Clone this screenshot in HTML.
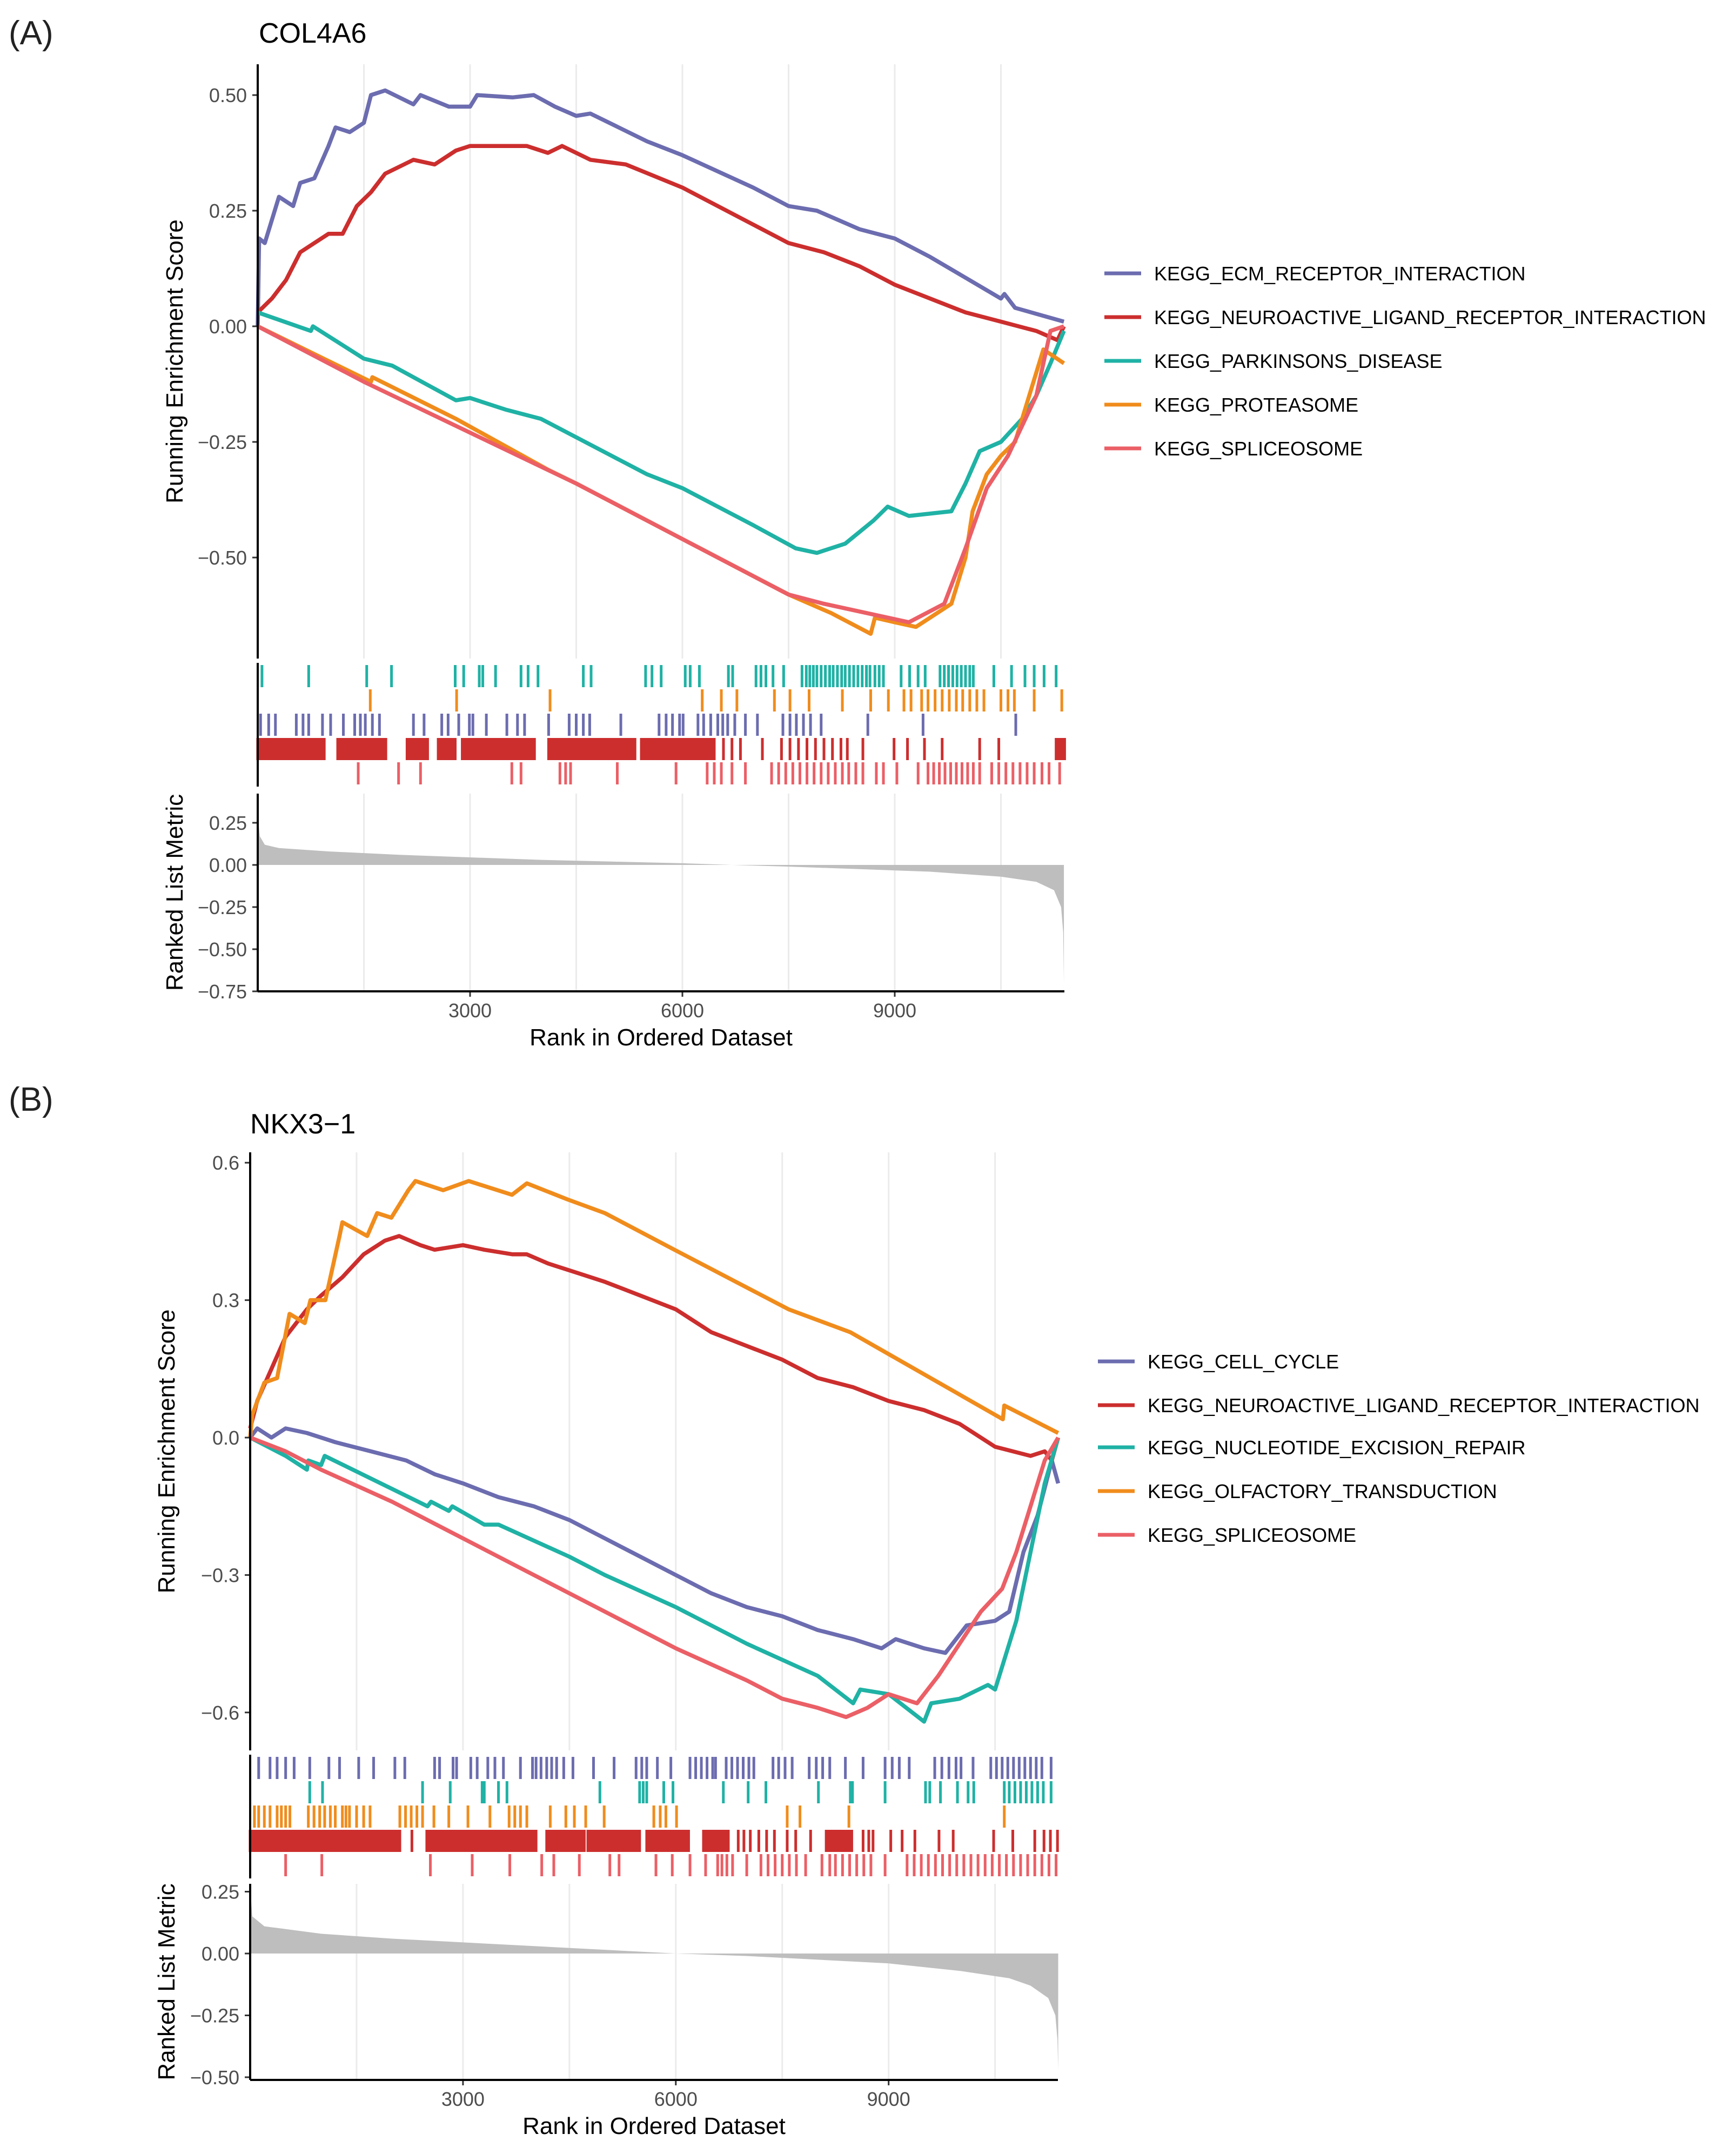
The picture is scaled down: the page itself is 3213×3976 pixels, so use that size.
<!DOCTYPE html>
<html><head><meta charset="utf-8">
<style>
html,body{margin:0;padding:0;background:#fff;}
svg{display:block;font-family:"Liberation Sans",Arial,sans-serif;}
</style></head>
<body>
<svg id="fig" width="3213" height="3976" viewBox="0 0 3213 3976" xmlns="http://www.w3.org/2000/svg">
<rect width="3213" height="3976" fill="#fff"/>
<text x="16" y="82" font-size="62" fill="#222">(A)</text>
<text x="479" y="79" font-size="52" fill="#000">COL4A6</text>
<text x="16" y="2056" font-size="62" fill="#222">(B)</text>
<text x="463" y="2098" font-size="52" fill="#000">NKX3−1</text>
</svg>
<script>
// ---------- Panel A data ----------
const namesA = ["KEGG_ECM_RECEPTOR_INTERACTION","KEGG_NEUROACTIVE_LIGAND_RECEPTOR_INTERACTION","KEGG_PARKINSONS_DISEASE","KEGG_PROTEASOME","KEGG_SPLICEOSOME"];
const esRankA_ecm = [0,20,100,200,300,500,600,800,1000,1100,1300,1500,1600,1800,2200,2300,2700,3000,3100,3600,3900,4200,4500,4700,5500,6000,7000,7500,7900,8500,9000,9500,10500,10550,10700,11390];
const esValA_ecm  = [0,0.19,0.18,0.23,0.28,0.26,0.31,0.32,0.39,0.43,0.42,0.44,0.50,0.51,0.48,0.50,0.475,0.475,0.50,0.495,0.50,0.475,0.455,0.46,0.40,0.37,0.30,0.26,0.25,0.21,0.19,0.15,0.06,0.07,0.04,0.01];
const esRankA_neuro = [0,200,400,600,800,1000,1200,1400,1600,1800,2200,2500,2800,3000,3800,4100,4300,4700,5200,6000,7000,7500,8000,8500,9000,9500,10000,10500,11000,11300,11390];
const esValA_neuro  = [0.03,0.06,0.10,0.16,0.18,0.20,0.20,0.26,0.29,0.33,0.36,0.35,0.38,0.39,0.39,0.375,0.39,0.36,0.35,0.30,0.22,0.18,0.16,0.13,0.09,0.06,0.03,0.01,-0.01,-0.03,0.0];
const esRankA_park = [0,750,780,1500,1900,2800,3000,3500,4000,4500,5000,5500,6000,7000,7600,7900,8300,8700,8900,9200,9800,10000,10200,10500,10800,11000,11200,11390];
const esValA_park  = [0.03,-0.01,0.0,-0.07,-0.085,-0.16,-0.155,-0.18,-0.20,-0.24,-0.28,-0.32,-0.35,-0.43,-0.48,-0.49,-0.47,-0.42,-0.39,-0.41,-0.40,-0.34,-0.27,-0.25,-0.20,-0.15,-0.08,-0.01];
const esRankA_prot = [0,1600,1620,2800,4100,4500,6000,7500,8100,8660,8720,9000,9300,9600,9800,10000,10100,10300,10500,10700,10900,11100,11390];
const esValA_prot  = [0,-0.12,-0.11,-0.20,-0.31,-0.34,-0.46,-0.58,-0.62,-0.665,-0.63,-0.64,-0.65,-0.62,-0.60,-0.50,-0.40,-0.32,-0.28,-0.25,-0.15,-0.05,-0.08];
const esRankA_spl = [0,1500,3000,4500,6000,7500,8000,8600,9200,9700,10000,10300,10600,11000,11200,11390];
const esValA_spl  = [0,-0.12,-0.23,-0.34,-0.46,-0.58,-0.60,-0.62,-0.64,-0.60,-0.48,-0.35,-0.28,-0.15,-0.01,0.0];
const hitsA_park = [60,720,1540,1890,2790,2910,3130,3180,3360,3720,3820,3960,4600,4710,5480,5570,5700,6040,6110,6240,6650,6710,7040,7110,7180,7280,7430,7690,7750,7800,7850,7900,7960,8020,8080,8130,8190,8250,8300,8360,8420,8480,8540,8600,8650,8720,8780,8840,9090,9210,9330,9430,9640,9700,9760,9820,9880,9940,10000,10060,10110,10400,10650,10840,10970,11110,11280];
const hitsA_prot = [1590,2810,4130,6280,6550,6770,7300,7520,7790,8260,8660,8910,9130,9230,9380,9470,9570,9670,9770,9870,9960,10060,10160,10260,10500,10600,10690,10970,11360];
const hitsA_ecm = [40,155,250,545,640,720,915,1030,1210,1370,1450,1520,1620,1720,2200,2350,2600,2690,2840,2990,3040,3230,3520,3670,3770,4110,4400,4500,4600,4690,5130,5670,5770,5860,5960,6010,6220,6300,6400,6500,6570,6640,6740,6890,7060,7420,7520,7610,7710,7810,7960,8620,9400,10710];
const hitsA_neuro = [7130,8550,8990,9180,9420,9670,10200,10470,6580,6700,6820,7400,7520,7640,7760,7880,8000,8120,8240,8330];
const runsA_neuro = [[0,940],[1130,1810],[2110,2400],[2550,2790],[2890,3910],[4110,5330],[5420,6450],[11280,11400]];
const hitsA_spl = [1420,1990,2300,3590,3720,4270,4350,4420,5080,5910,6350,6450,6550,6700,6890,7260,7360,7460,7560,7660,7760,7860,7960,8060,8160,8260,8350,8450,8550,8740,8840,9030,9330,9470,9550,9630,9710,9790,9870,9950,10030,10110,10200,10370,10470,10570,10670,10770,10870,10970,11080,11180,11330];
const metricRankA = [0,30,100,300,1000,2000,3000,4000,5000,6000,6700,7500,8500,9500,10500,11000,11250,11350,11380,11390];
const metricValA  = [0.30,0.17,0.12,0.10,0.08,0.06,0.045,0.03,0.02,0.01,0,-0.01,-0.025,-0.04,-0.07,-0.10,-0.15,-0.25,-0.40,-0.70];

// ---------- Panel B data ----------
const namesB = ["KEGG_CELL_CYCLE","KEGG_NEUROACTIVE_LIGAND_RECEPTOR_INTERACTION","KEGG_NUCLEOTIDE_EXCISION_REPAIR","KEGG_OLFACTORY_TRANSDUCTION","KEGG_SPLICEOSOME"];
const esRankB_cc = [0,100,300,500,800,1200,1700,2200,2600,3000,3500,4000,4500,5000,5500,6000,6500,7000,7500,8000,8500,8900,9100,9500,9800,10100,10500,10700,10900,11100,11300,11390];
const esValB_cc  = [0,0.02,0,0.02,0.01,-0.01,-0.03,-0.05,-0.08,-0.10,-0.13,-0.15,-0.18,-0.22,-0.26,-0.30,-0.34,-0.37,-0.39,-0.42,-0.44,-0.46,-0.44,-0.46,-0.47,-0.41,-0.40,-0.38,-0.25,-0.17,-0.05,-0.10];
const esRankB_neuro = [0,100,300,500,800,1000,1300,1600,1900,2100,2400,2600,3000,3300,3700,3900,4200,4600,5000,5500,6000,6500,7000,7500,8000,8500,9000,9500,10000,10500,11000,11200,11300,11390];
const esValB_neuro  = [0.02,0.08,0.15,0.22,0.28,0.31,0.35,0.40,0.43,0.44,0.42,0.41,0.42,0.41,0.40,0.40,0.38,0.36,0.34,0.31,0.28,0.23,0.20,0.17,0.13,0.11,0.08,0.06,0.03,-0.02,-0.04,-0.03,-0.05,0];
const esRankB_ner = [0,500,800,820,1000,1050,2500,2550,2800,2850,3300,3500,4500,5000,6000,7000,8000,8500,8600,9000,9500,9600,10000,10400,10500,10600,10800,11000,11200,11390];
const esValB_ner  = [0,-0.04,-0.07,-0.05,-0.06,-0.04,-0.15,-0.14,-0.16,-0.15,-0.19,-0.19,-0.26,-0.30,-0.37,-0.45,-0.52,-0.58,-0.55,-0.56,-0.62,-0.58,-0.57,-0.54,-0.55,-0.50,-0.40,-0.25,-0.10,0];
const esRankB_olf = [0,30,200,380,555,770,850,1060,1260,1300,1650,1790,1990,2230,2330,2720,3080,3690,3900,4470,5000,5980,7590,8460,10610,10630,11390];
const esValB_olf  = [0,0.05,0.12,0.13,0.27,0.25,0.30,0.30,0.44,0.47,0.44,0.49,0.48,0.54,0.56,0.54,0.56,0.53,0.555,0.52,0.49,0.41,0.28,0.23,0.04,0.07,0.01];
const esRankB_spl = [0,500,1000,2000,3000,4000,5000,6000,7000,7500,8000,8400,8700,9000,9400,9700,10000,10300,10600,10800,11000,11200,11390];
const esValB_spl  = [0,-0.03,-0.07,-0.14,-0.22,-0.30,-0.38,-0.46,-0.53,-0.57,-0.59,-0.61,-0.59,-0.56,-0.58,-0.52,-0.45,-0.38,-0.33,-0.25,-0.15,-0.05,0];
const hitsB_cc = [120,280,380,500,620,840,1110,1260,1530,1740,2040,2180,2600,2670,2860,2910,3110,3200,3350,3450,3570,3810,3980,4030,4100,4180,4250,4320,4420,4550,4840,5130,5440,5520,5590,5740,5930,6200,6280,6360,6440,6520,6560,6710,6790,6870,6950,7030,7100,7370,7450,7540,7640,7880,7980,8070,8170,8390,8640,8950,9050,9150,9290,9650,9750,9850,9950,10020,10190,10440,10520,10600,10680,10760,10840,10920,11000,11080,11160,11290];
const hitsB_ner = [840,1020,2430,2820,3270,3300,3500,3620,4930,5490,5540,5590,5830,5960,6670,7020,7270,8010,8460,8490,8950,9520,9580,9730,9970,10120,10200,10630,10700,10780,10860,10940,11020,11100,11180,11290];
const hitsB_olf = [60,120,200,280,380,440,500,560,820,900,980,1050,1130,1200,1300,1350,1400,1500,1600,1690,2110,2190,2270,2350,2430,2590,2800,3070,3380,3650,3730,3810,3900,4230,4450,4570,4730,4990,5690,5780,5860,6010,7570,7750,8440,10630];
const hitsB_neuro = [2280,7390,7570,7690,7900,9030,9190,9370,9710,9910,10480,10750,11060,11190,11280,11380,6880,6960,7050,7170,7280,8640,8720,8780];
const runsB_neuro = [[0,2110],[2490,4030],[4180,4710],[4760,5490],[5590,6180],[6390,6740],[8120,8480]];
const hitsB_spl = [500,1010,2540,3130,3660,4110,4280,4640,5070,5200,5720,5950,6200,6420,6590,6650,6720,6800,7000,7200,7300,7400,7500,7600,7700,7830,8060,8170,8250,8350,8450,8550,8650,8750,8950,9260,9360,9460,9560,9660,9760,9860,9960,10060,10160,10260,10360,10460,10560,10660,10760,10860,10960,11060,11160,11260,11360];
const metricRankB = [0,30,200,1000,2000,3000,4000,5000,6000,7000,8000,9000,10000,10700,11000,11250,11350,11380,11390];
const metricValB  = [0.27,0.15,0.11,0.08,0.06,0.045,0.03,0.015,0,-0.01,-0.025,-0.04,-0.07,-0.10,-0.13,-0.18,-0.25,-0.35,-0.47];

const COLORS = ["#6C6CB0","#CC2E2E","#1FB2A5","#F08C1C","#EB5F66"];
const svg = document.getElementById('fig');
const NS = "http://www.w3.org/2000/svg";
function mk(tag, attrs, parent){const e=document.createElementNS(NS,tag);for(const k in attrs)e.setAttribute(k,attrs[k]);(parent||svg).appendChild(e);return e;}

function drawPanel(P){
  const g = mk('g',{});
  
  
  const xs = r => P.x0 + r*P.xPer;
  const ys = v => P.y0 - v*P.yPer;
  const ym = v => P.m0 - v*P.mPer;
  [1500,3000,4500,6000,7500,9000,10500].forEach(r=>{
    [[P.esTop,P.esBot],[P.mTop,P.mBot]].forEach(([a,b])=>{
      const l=mk('line',{x1:xs(r),x2:xs(r),y1:a,y2:b,stroke:'#ebebeb','stroke-width':3},g);
      
      
    });
  });
  P.series.forEach((s,i)=>{
    let d='';
    s.r.forEach((r,j)=>{d+=(j?'L':'M')+xs(r).toFixed(1)+','+ys(s.v[j]).toFixed(1);});
    const p=mk('path',{d:d,fill:'none',stroke:COLORS[i],'stroke-width':7.5,'stroke-linejoin':'round'},g);
    
    
  });
  P.esTicks.forEach((t,i)=>{
    const y=ys(t);
    mk('line',{x1:P.x0-10,x2:P.x0,y1:y,y2:y,stroke:'#333','stroke-width':3},g);
    const tx=mk('text',{x:P.x0-20,y:y+13,'font-size':36,fill:'#4d4d4d','text-anchor':'end'},g);
    tx.textContent=P.esTickLabels[i];
    
    
  });
  P.rugs.forEach((rg,i)=>{
    const top=P.rugTop+i*P.rugH, h=P.rugH-4;
    rg.hits.forEach(r=>{
      const t=mk('rect',{x:xs(r)-2.5,y:top,width:5,height:h,fill:COLORS[rg.c]},g);
      
      
    });
    (rg.runs||[]).forEach(([a,b])=>{
      const t=mk('rect',{x:xs(a)-2.5,y:top,width:xs(b)-xs(a)+5,height:h,fill:COLORS[rg.c]},g);
      
      
    });
  });
  let d='M'+xs(P.mr[0])+','+ym(0);
  P.mr.forEach((r,j)=>{d+='L'+xs(r).toFixed(1)+','+ym(P.mv[j]).toFixed(1);});
  d+='L'+xs(P.mr[P.mr.length-1])+','+ym(0)+'Z';
  const ar=mk('path',{d:d,fill:'#bebebe'},g);
  
  
  P.mTicks.forEach((t,i)=>{
    const y=ym(t);
    mk('line',{x1:P.x0-10,x2:P.x0,y1:y,y2:y,stroke:'#333','stroke-width':3},g);
    const tx=mk('text',{x:P.x0-20,y:y+13,'font-size':36,fill:'#4d4d4d','text-anchor':'end'},g);
    tx.textContent=P.mTickLabels[i];
    
    
  });
  [3000,6000,9000].forEach(r=>{
    mk('line',{x1:xs(r),x2:xs(r),y1:P.mBot,y2:P.mBot+10,stroke:'#333','stroke-width':3},g);
    const tx=mk('text',{x:xs(r),y:P.mBot+48,'font-size':36,fill:'#4d4d4d','text-anchor':'middle'},g);
    tx.textContent=String(r);
    
    
  });
  mk('line',{x1:P.x0,x2:P.x0,y1:P.esTop,y2:P.esBot,stroke:'#000','stroke-width':4},g);
  mk('line',{x1:P.x0,x2:P.x0,y1:P.rugTop-4,y2:P.rugTop+5*P.rugH,stroke:'#000','stroke-width':4},g);
  mk('line',{x1:P.x0,x2:P.x0,y1:P.mTop,y2:P.mBot,stroke:'#000','stroke-width':4},g);
  mk('line',{x1:P.x0,x2:P.xEnd,y1:P.mBot,y2:P.mBot,stroke:'#000','stroke-width':4},g);
  let t=mk('text',{x:0,y:0,'font-size':44,fill:'#000','text-anchor':'middle',transform:`translate(${P.ytx},${(P.esTop+P.esBot)/2}) rotate(-90)`},g);
  t.textContent='Running Enrichment Score';
  
  
  t=mk('text',{x:0,y:0,'font-size':44,fill:'#000','text-anchor':'middle',transform:`translate(${P.ytx},${(P.mTop+P.mBot)/2}) rotate(-90)`},g);
  t.textContent='Ranked List Metric';
  
  
  t=mk('text',{x:(P.x0+P.xEnd)/2,y:P.mBot+100,'font-size':44,fill:'#000','text-anchor':'middle'},g);
  t.textContent='Rank in Ordered Dataset';
  
  
  P.names.forEach((n,i)=>{
    const y=P.legY[i];
    const lg=mk('g',{},g);
    
    
    mk('line',{x1:P.legX,x2:P.legX+68,y1:y,y2:y,stroke:COLORS[i],'stroke-width':7},lg);
    const tx=mk('text',{x:P.legX+92,y:y+13,'font-size':36,fill:'#000'},lg);
    tx.textContent=n;
  });
}

drawPanel({id:'a',x0:477,xPer:0.1310,xEnd:1970,y0:604,yPer:856,esTop:119,esBot:1219,
  rugTop:1231,rugH:45,mTop:1469,mBot:1835,m0:1601,mPer:312,ytx:338,
  esTicks:[0.5,0.25,0,-0.25,-0.5],esTickLabels:['0.50','0.25','0.00','−0.25','−0.50'],
  mTicks:[0.25,0,-0.25,-0.5,-0.75],mTickLabels:['0.25','0.00','−0.25','−0.50','−0.75'],
  series:[{r:esRankA_ecm,v:esValA_ecm},{r:esRankA_neuro,v:esValA_neuro},{r:esRankA_park,v:esValA_park},{r:esRankA_prot,v:esValA_prot},{r:esRankA_spl,v:esValA_spl}],
  rugs:[{c:2,hits:hitsA_park},{c:3,hits:hitsA_prot},{c:0,hits:hitsA_ecm},{c:1,hits:hitsA_neuro,runs:runsA_neuro},{c:4,hits:hitsA_spl}],
  mr:metricRankA,mv:metricValA,names:namesA,legX:2044,legY:[506,587,668,749,830]});

drawPanel({id:'b',x0:463,xPer:0.1313,xEnd:1958,y0:2661,yPer:848,esTop:2133,esBot:3240,
  rugTop:3252,rugH:45,mTop:3487,mBot:3850,m0:3616,mPer:458,ytx:323,
  esTicks:[0.6,0.3,0,-0.3,-0.6],esTickLabels:['0.6','0.3','0.0','−0.3','−0.6'],
  mTicks:[0.25,0,-0.25,-0.5],mTickLabels:['0.25','0.00','−0.25','−0.50'],
  series:[{r:esRankB_cc,v:esValB_cc},{r:esRankB_neuro,v:esValB_neuro},{r:esRankB_ner,v:esValB_ner},{r:esRankB_olf,v:esValB_olf},{r:esRankB_spl,v:esValB_spl}],
  rugs:[{c:0,hits:hitsB_cc},{c:2,hits:hitsB_ner},{c:3,hits:hitsB_olf},{c:1,hits:hitsB_neuro,runs:runsB_neuro},{c:4,hits:hitsB_spl}],
  mr:metricRankB,mv:metricValB,names:namesB,legX:2032,legY:[2520,2601,2679,2760,2841]});
</script>
</body></html>
